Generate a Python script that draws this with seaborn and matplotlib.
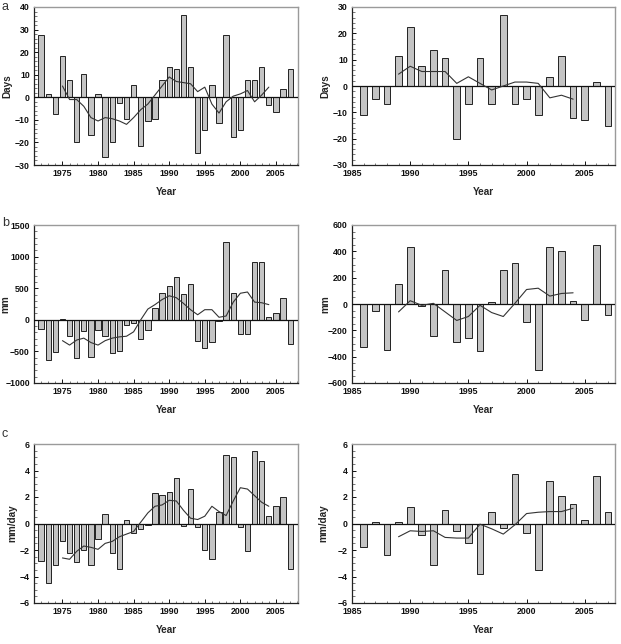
import numpy as np
import pandas as pd
import matplotlib
matplotlib.use("Agg")
import matplotlib.pyplot as plt
import seaborn as sns
from matplotlib.ticker import MultipleLocator

sns.set_style("ticks")
plt.rcParams['font.family'] = ['Liberation Sans', 'DejaVu Sans']

# ---------------- data ----------------
years_left = list(range(1972, 2008))
years_right = list(range(1986, 2008))
ma_years_left = list(range(1975, 2005))
ma_years_right = list(range(1989, 2005))

days_left = [27.5, 1.5, -7.5, 18.5, 7.5, -20, 10.5, -16.5, 1.5, -26.5, -20, -2.5,
             -9.5, 5.5, -21.5, -10.5, -9.5, 7.5, 13.5, 12.5, 36.5, 13.5, -24.5, -14.5,
             5.5, -11.5, 27.5, -17.5, -14.5, 7.5, 7.5, 13.5, -3.5, -6.5, 3.5, 12.5]
days_left_ma = [5, -1, -1, -4, -9, -10.5, -9, -9.5, -10.5, -12, -9, -5.5, -3, 1, 5, 9,
                7, 6.5, 6, 2.5, 4.5, -3, -7, -2, 0.5, 1.5, 3, -2, 1, 4.5]

days_right = [-11, -5, -7, 11.5, 22.5, 7.5, 13.5, 10.5, -20, -7, 10.5, -7, 27, -7,
              -5, -11, 3.5, 11.5, -12, -13, 1.5, -15]
days_right_ma = [4.5, 7.5, 5.5, 5.5, 5.5, 1, 3.5, 1, -1.5, 0, 1.5, 1.5, 1, -4.5, -3.5, -5]

mm_left = [-140, -630, -510, 20, -250, -600, -170, -590, -160, -260, -530, -500,
           -80, -50, -300, -160, 190, 420, 540, 680, 410, 570, -340, -440,
           -350, -20, 1230, 420, -220, -220, 920, 910, 40, 100, 340, -380]
mm_left_ma = [-330, -400, -320, -290, -360, -400, -330, -290, -270, -260, -190, 0,
              170, 240, 320, 380, 350, 260, 160, 80, 160, 160, 40, 60, 280, 420,
              440, 280, 270, 240]

mm_right = [-325, -50, -350, 150, 430, -15, -245, 255, -290, -255, -360, 15, 260,
            315, -140, -500, 435, 405, 20, -125, 450, -85]
mm_right_ma = [-60, 25, -10, 5, -60, -125, -95, -10, -65, -95, 5, 110, 120, 60, 80, 85]

mmday_left = [-2.8, -4.5, -3.1, -1.3, -2.2, -2.9, -2.0, -3.1, -1.2, 0.7, -2.2, -3.4,
              0.3, -0.7, -0.4, -0.15, 2.3, 2.15, 2.35, 3.4, -0.2, 2.6, -0.3, -2.0,
              -2.7, 0.9, 5.15, 5.05, -0.3, -2.1, 5.5, 4.7, 0.6, 1.3, 2.0, -3.4]
mmday_left_ma = [-2.6, -2.7, -2.1, -1.7, -1.8, -1.95, -1.5, -1.35, -1.0, -0.8, -0.6,
                 0.1, 0.8, 1.3, 1.4, 1.75, 1.7, 1.0, 0.4, 0.3, 0.55, 1.3, 0.9, 0.6,
                 1.7, 2.7, 2.6, 2.1, 1.6, 1.3]

mmday_right = [-1.8, 0.1, -2.4, 0.15, 1.25, -0.9, -3.1, 1.05, -0.6, -1.5, -3.8, 0.85,
               -0.35, 3.7, -0.7, -3.5, 3.2, 2.1, 1.5, 0.3, 3.6, 0.85]
mmday_right_ma = [-1.0, -0.55, -0.6, -0.55, -1.05, -1.1, -1.1, -0.05, -0.4, -0.8,
                  -0.1, 0.75, 0.85, 0.9, 0.9, 1.15]

ylabels = ["Days", "Days", "mm", "mm", "mm/day", "mm/day"]
panel_letters = ["a", "b", "c"]
ylims = [(-30, 40), (-30, 30), (-1000, 1500), (-600, 600), (-6, 6), (-6, 6)]
ymajor = [10, 10, 500, 200, 2, 2]
yminor = [2, 2, 100, 50, 0.5, 0.5]

panels = [
    (years_left, days_left, ma_years_left, days_left_ma),
    (years_right, days_right, ma_years_right, days_right_ma),
    (years_left, mm_left, ma_years_left, mm_left_ma),
    (years_right, mm_right, ma_years_right, mm_right_ma),
    (years_left, mmday_left, ma_years_left, mmday_left_ma),
    (years_right, mmday_right, ma_years_right, mmday_right_ma),
]

# ---------------- layout ----------------
W, H = 621, 644
fig = plt.figure(figsize=(W / 100, H / 100), dpi=100)

rows_px = [(7, 165), (225, 383), (444, 603)]
cols_px = [(34, 298), (352, 615)]
ylabel_x_px = [7, 325, 5, 325, 12, 323]
letter_base_px = [10, 226, 437]

for i, (yrs, vals, myrs, mvals) in enumerate(panels):
    r, c = divmod(i, 2)
    top, bot = rows_px[r]
    lft, rgt = cols_px[c]
    ax = fig.add_axes([lft / W, 1 - bot / H, (rgt - lft) / W, (bot - top) / H])

    df = pd.DataFrame({"year": yrs, "value": vals})
    dfm = pd.DataFrame({"year": myrs, "value": mvals})
    bw = 0.75 if c == 0 else 0.58
    sns.barplot(data=df, x="year", y="value", native_scale=True, width=bw,
                color="#c4c4c4", saturation=1, edgecolor="#222222", linewidth=0.7,
                ax=ax, errorbar=None)
    ax.axhline(0, color="#111111", lw=0.9, zorder=3)
    sns.lineplot(data=dfm, x="year", y="value", color="#333333", lw=0.8, ax=ax,
                 zorder=4)

    if c == 0:
        ax.set_xlim(1971, 2008.1)
        ax.set_xticks([1975, 1980, 1985, 1990, 1995, 2000, 2005])
    else:
        ax.set_xlim(1985, 2007.6)
        ax.set_xticks([1985, 1990, 1995, 2000, 2005])
    ax.xaxis.set_minor_locator(MultipleLocator(1))
    ax.set_ylim(*ylims[i])
    ax.yaxis.set_major_locator(MultipleLocator(ymajor[i]))
    ax.yaxis.set_minor_locator(MultipleLocator(yminor[i]))

    ax.tick_params(which="major", direction="in", length=3.2, width=0.7,
                   labelsize=6.3, pad=3, left=True, bottom=True, top=False,
                   right=False, colors="#111111")
    ax.tick_params(which="minor", direction="in", length=1.8, width=0.5,
                   left=True, bottom=True, top=False, right=False, color="#444444")
    for lab in ax.get_xticklabels() + ax.get_yticklabels():
        lab.set_fontweight("bold")

    for s in ["left", "bottom"]:
        ax.spines[s].set_color("#222222")
        ax.spines[s].set_linewidth(0.9)
    for s in ["top", "right"]:
        ax.spines[s].set_visible(True)
        ax.spines[s].set_color("#9a9a9a")
        ax.spines[s].set_linewidth(1.0)

    h = bot - top
    ax.set_xlabel("Year", fontsize=7.2, fontweight="bold")
    ax.xaxis.set_label_coords(0.5, -27.0 / h)
    ax.xaxis.label.set_va("center")
    ax.set_ylabel(ylabels[i], fontsize=7.2, fontweight="bold")
    ax.yaxis.set_label_coords((ylabel_x_px[i] - lft) / (rgt - lft), 0.5)
    ax.yaxis.label.set_va("center")

    if c == 0:
        fig.text(2 / W, 1 - letter_base_px[r] / H, panel_letters[r], fontsize=9,
                 color="#333333", va="baseline", ha="left")

fig.savefig("out.png", dpi=100)
